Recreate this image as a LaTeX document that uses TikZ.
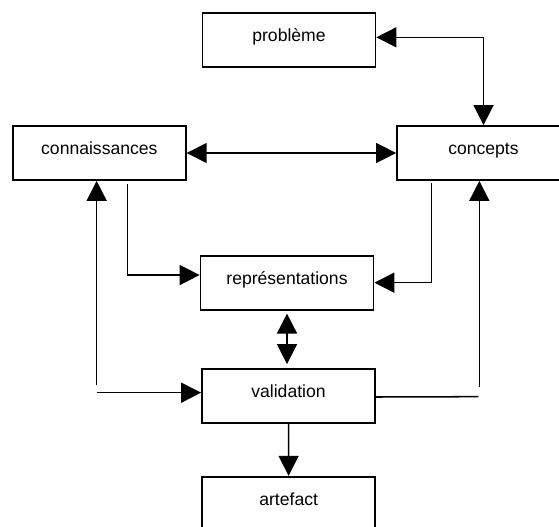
\documentclass[tikz,border=0pt]{standalone}
\usepackage{fontspec}
\setmainfont{Liberation Sans}
\usetikzlibrary{arrows.meta}

\begin{document}
\begin{tikzpicture}[
	boite/.style={draw, line width=1.5pt, minimum width=5.19cm, minimum height=1.62cm,
		text height=9pt, text depth=6.5pt, font=\fontsize{15}{18}\selectfont},
	lien/.style={line width=1.3pt},
	>={Triangle[length=0.6cm,width=0.6cm]}]
		\useasboundingbox (0,0) rectangle (16.77,-15.78) ;

		\node[boite] (probleme) at (8.67,-1.2) {problème} ;
		\node[boite] (connaissances) at (2.98,-4.59) {connaissances} ;
		\node[boite] (concepts) at (14.505,-4.59) {concepts} ;
		\node[boite] (representations) at (8.61,-8.48) {représentations} ;
		\node[boite] (validation) at (8.655,-11.88) {validation} ;
		\node[boite] (artefact) at (8.66,-15.11) {artefact} ;

		\coordinate (c1) at (3.83,-5.52) ;
		\coordinate (c2) at (12.95,-5.48) ;
		\coordinate (c3) at (2.9,-11.55) ;
		\coordinate (c4) at (2.9,-11.78) ;
		\coordinate (c5) at (14.35,-11.9) ;
		\coordinate (c6) at (14.38,-11.6) ;

		\draw[lien,<->] ([yshift=0.08cm]probleme.east) -| (concepts.north) ;
		\draw[lien,<->] (connaissances) -- (concepts) ;
		\draw[lien,->] (c1) |- ([yshift=0.23cm]representations.west) ;
		\draw[lien,->] (c2) |- (representations.east) ;
		\draw[lien,->] (c3) -- (c3 |- connaissances.south) ;
		\draw[lien,->] (c4) -- (c4 -| validation.west) ;
		\draw[lien] ([yshift=-0.03cm]validation.east) -- (c5) ;
		\draw[lien,->] (c6) -- (c6 |- concepts.south) ;
		\draw[lien,<->,shorten <=0.09cm,shorten >=0.12cm] (representations.south) -- (representations.south |- validation.north) ;
		\draw[lien,->] (validation) -- (artefact) ;
\end{tikzpicture}
\end{document}
